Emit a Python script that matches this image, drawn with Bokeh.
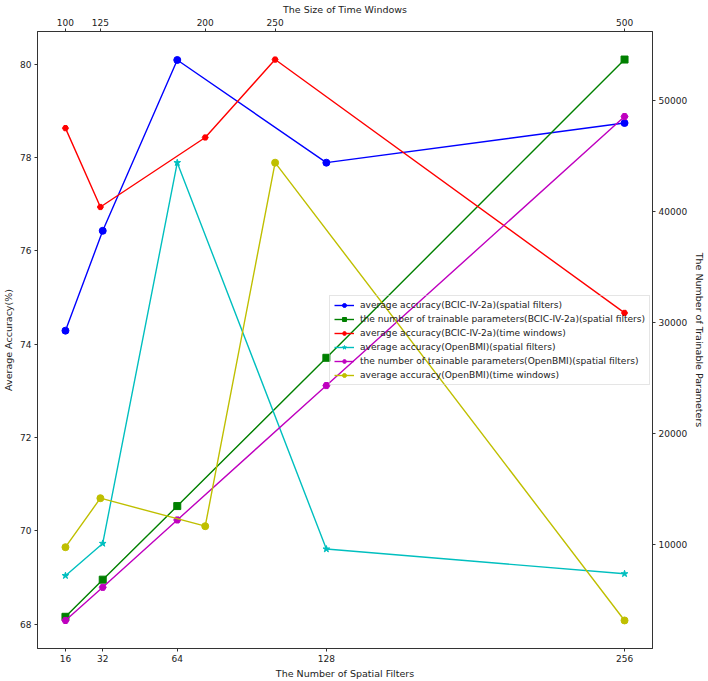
from bokeh.plotting import figure
from bokeh.models import (Range1d, LinearAxis, FixedTicker, Legend, LegendItem)
from bokeh.embed import file_html
from bokeh.resources import INLINE

# x values
filters = [16, 32, 64, 128, 256]
windows = [100, 125, 200, 250, 500]

# accuracy (%) and trainable-parameter counts
acc_bcic_filters = [74.29, 76.43, 80.09, 77.89, 78.74]
params_bcic_filters = [3510, 6850, 13470, 26810, 53640]
acc_bcic_windows = [78.63, 76.94, 78.43, 80.10, 74.67]
acc_openbmi_filters = [69.04, 69.73, 77.89, 69.61, 69.08]
params_openbmi_filters = [3180, 6160, 12220, 24310, 48510]
acc_openbmi_windows = [69.65, 70.70, 70.10, 77.89, 68.08]

acc_ticks = [68, 70, 72, 74, 76, 78, 80]
param_ticks = [10000, 20000, 30000, 40000, 50000]

FONT = "DejaVu Sans"
TICK_FS = "9px"
LABEL_FS = "9.5px"
LEGEND_FS = "9.1px"
AXIS_COLOR = "#333333"


def padded(lo, hi, frac=0.05):
    d = (hi - lo) * frac
    return lo - d, hi + d


acc_all = acc_bcic_filters + acc_bcic_windows + acc_openbmi_filters + acc_openbmi_windows
par_all = params_bcic_filters + params_openbmi_filters

x0, x1 = padded(min(filters), max(filters))
t0, t1 = padded(min(windows), max(windows))
y0, y1 = padded(min(acc_all), max(acc_all))
r0, r1 = padded(min(par_all), max(par_all))

p = figure(width=708, height=681, output_backend="svg", toolbar_location=None,
           x_range=Range1d(x0, x1), y_range=Range1d(y0, y1),
           x_axis_location=None, y_axis_location=None,
           min_border_left=35, min_border_right=48,
           min_border_top=30, min_border_bottom=32)
p.extra_x_ranges = {"tw": Range1d(t0, t1)}
p.extra_y_ranges = {"par": Range1d(r0, r1)}
p.grid.visible = False
p.outline_line_color = AXIS_COLOR
p.outline_line_width = 1
p.background_fill_color = "white"
p.border_fill_color = "white"


def style_axis(ax, label):
    ax.axis_label = label
    ax.axis_label_text_font = FONT
    ax.axis_label_text_font_size = LABEL_FS
    ax.axis_label_text_font_style = "normal"
    ax.axis_label_text_color = "#222222"
    ax.axis_label_standoff = 3
    ax.major_label_text_font = FONT
    ax.major_label_text_font_size = TICK_FS
    ax.major_label_text_color = "#222222"
    ax.major_label_standoff = 3
    ax.major_tick_in = 0
    ax.major_tick_out = 3
    ax.minor_tick_in = 0
    ax.minor_tick_out = 0
    ax.axis_line_color = AXIS_COLOR
    ax.major_tick_line_color = AXIS_COLOR


bottom = LinearAxis(ticker=FixedTicker(ticks=filters))
style_axis(bottom, "The Number of Spatial Filters")
p.add_layout(bottom, "below")

top = LinearAxis(x_range_name="tw", ticker=FixedTicker(ticks=windows))
style_axis(top, "The Size of Time Windows")
top.axis_label_standoff = 1
p.add_layout(top, "above")

left = LinearAxis(ticker=FixedTicker(ticks=acc_ticks))
style_axis(left, "Average Accuracy(%)")
p.add_layout(left, "left")

right = LinearAxis(y_range_name="par", ticker=FixedTicker(ticks=param_ticks))
style_axis(right, "The Number of Trainable Parameters")
right.axis_label_standoff = 4
p.add_layout(right, "right")

LW = 1.4
series = [
    ("average accuracy(BCIC-IV-2a)(spatial filters)", filters, acc_bcic_filters,
     "#0000ff", "circle", 7, {}),
    ("the number of trainable parameters(BCIC-IV-2a)(spatial filters)", filters,
     params_bcic_filters, "#008000", "square", 7, {"y_range_name": "par"}),
    ("average accuracy(BCIC-IV-2a)(time windows)", windows, acc_bcic_windows,
     "#ff0000", "hex", 6, {"x_range_name": "tw"}),
    ("average accuracy(OpenBMI)(spatial filters)", filters, acc_openbmi_filters,
     "#00bfbf", "star", 7, {}),
    ("the number of trainable parameters(OpenBMI)(spatial filters)", filters,
     params_openbmi_filters, "#bf00bf", "hex", 7, {"y_range_name": "par"}),
    ("average accuracy(OpenBMI)(time windows)", windows, acc_openbmi_windows,
     "#bfbf00", "circle", 7, {"x_range_name": "tw"}),
]

items = []
for label, xs, ys, color, marker, size, rng in series:
    ln = p.line(xs, ys, line_color=color, line_width=LW, **rng)
    sc = p.scatter(xs, ys, marker=marker, size=size, fill_color=color,
                   line_color=color, line_width=1, **rng)
    items.append(LegendItem(label=label, renderers=[ln, sc]))

# transparent legend box, so the curves passing through it stay visible
legend = Legend(items=items, location=(292, 263),
                label_text_font=FONT, label_text_font_size=LEGEND_FS,
                label_text_color="#222222",
                label_height=10, glyph_height=10, glyph_width=20,
                label_standoff=6, spacing=4, padding=4, margin=0,
                border_line_color="#cccccc", border_line_width=1,
                background_fill_alpha=0.0)
p.add_layout(legend, "center")

open("out.html", "w").write(file_html(p, INLINE))
